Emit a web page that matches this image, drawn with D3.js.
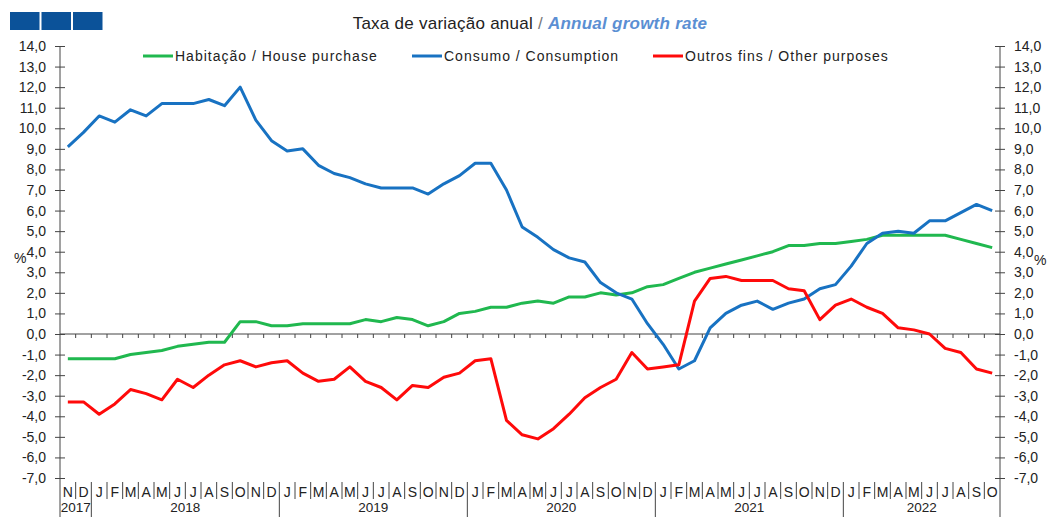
<!DOCTYPE html>
<html>
<head>
<meta charset="utf-8">
<script src="https://cdn.jsdelivr.net/npm/d3@7"></script>
<style>
  body { margin: 0; background: #fff; }
  svg { display: block; font-family: "Liberation Sans", Arial, sans-serif; }
</style>
</head>
<body>
<svg id="chart" width="1048" height="517"></svg>
<script>
// meses: N 2017 .. O 2022
const months = ["N","D",
  "J","F","M","A","M","J","J","A","S","O","N","D",
  "J","F","M","A","M","J","J","A","S","O","N","D",
  "J","F","M","A","M","J","J","A","S","O","N","D",
  "J","F","M","A","M","J","J","A","S","O","N","D",
  "J","F","M","A","M","J","J","A","S","O"];
const years = ["2017","2018","2019","2020","2021","2022"];
const monthsPerYear = [2, 12, 12, 12, 12, 10];

const habitacao = [-1.2,-1.2,-1.2,-1.2,-1.0,-0.9,-0.8,-0.6,-0.5,-0.4,-0.4,
  0.6,0.6,0.4,0.4,0.5,0.5,0.5,0.5,0.7,0.6,0.8,0.7,0.4,0.6,1.0,
  1.1,1.3,1.3,1.5,1.6,1.5,1.8,1.8,2.0,1.9,2.0,2.3,
  2.4,2.7,3.0,3.2,3.4,3.6,3.8,4.0,4.3,4.3,4.4,4.4,
  4.5,4.6,4.8,4.8,4.8,4.8,4.8,4.6,4.4,4.2];
const consumo = [9.1,9.8,10.6,10.3,10.9,10.6,11.2,11.2,11.2,11.4,11.1,
  12.0,10.4,9.4,8.9,9.0,8.2,7.8,7.6,7.3,7.1,7.1,7.1,6.8,7.3,7.7,
  8.3,8.3,7.0,5.2,4.7,4.1,3.7,3.5,2.5,2.0,1.7,0.5,
  -0.5,-1.7,-1.3,0.3,1.0,1.4,1.6,1.2,1.5,1.7,2.2,2.4,
  3.3,4.4,4.9,5.0,4.9,5.5,5.5,5.9,6.3,6.0];
const outros = [-3.3,-3.3,-3.9,-3.4,-2.7,-2.9,-3.2,-2.2,-2.6,-2.0,-1.5,
  -1.3,-1.6,-1.4,-1.3,-1.9,-2.3,-2.2,-1.6,-2.3,-2.6,-3.2,-2.5,-2.6,-2.1,-1.9,
  -1.3,-1.2,-4.2,-4.9,-5.1,-4.6,-3.9,-3.1,-2.6,-2.2,-0.9,-1.7,
  -1.6,-1.5,1.6,2.7,2.8,2.6,2.6,2.6,2.2,2.1,0.7,1.4,
  1.7,1.3,1.0,0.3,0.2,0.0,-0.7,-0.9,-1.7,-1.9];

const yTicks = d3.range(-7, 15);

const series = [
  { name: "Habitação / House purchase", values: habitacao, color: "#20b84f", lx: 143 },
  { name: "Consumo / Consumption", values: consumo, color: "#1872c2", lx: 412 },
  { name: "Outros fins / Other purposes", values: outros, color: "#ff0a0a", lx: 653 }
];

const svg = d3.select("#chart");
const mLeft = 60, mRight = 1000, mTop = 46, mBottom = 478;
const ink = "#222";

const idx = d3.range(months.length);
const x = d3.scaleBand().domain(idx).range([mLeft, mRight]);
const y = d3.scaleLinear().domain([-7, 14]).range([mBottom, mTop]);
const fmt = v => d3.format(".1f")(v).replace(".", ",").replace("−", "-");

// quadradinhos azuis do canto
svg.selectAll("rect.logo").data([0, 1, 2]).join("rect")
  .attr("x", d => 10 + d * 31.5).attr("y", 12)
  .attr("width", 29.5).attr("height", 18)
  .attr("fill", "#0b5299");

// título
const title = svg.append("text")
  .attr("x", 530).attr("y", 29)
  .attr("text-anchor", "middle")
  .attr("font-size", 17).attr("letter-spacing", 0.25).attr("fill", ink);
title.append("tspan").text("Taxa de variação anual ");
title.append("tspan").attr("fill", "#777").text("/ ");
title.append("tspan").attr("fill", "#5b8fd3")
  .attr("font-style", "italic").attr("font-weight", "bold")
  .text("Annual growth rate");

// legenda
const leg = svg.append("g");
series.forEach(s => {
  leg.append("line")
    .attr("x1", s.lx).attr("x2", s.lx + 30)
    .attr("y1", 56).attr("y2", 56)
    .attr("stroke", s.color).attr("stroke-width", 3);
  leg.append("text")
    .attr("x", s.lx + 32).attr("y", 61)
    .attr("font-size", 14).attr("letter-spacing", 1)
    .attr("fill", ink).text(s.name);
});

// eixos verticais
const axL = svg.append("g").attr("transform", `translate(${mLeft},0)`)
  .call(d3.axisLeft(y).tickValues(yTicks).tickFormat(fmt).tickSizeOuter(0).tickSize(5).tickPadding(9));
const axR = svg.append("g").attr("transform", `translate(${mRight},0)`)
  .call(d3.axisRight(y).tickValues(yTicks).tickFormat(fmt).tickSizeOuter(0).tickSize(5).tickPadding(9));
[axL, axR].forEach(ax => {
  ax.select(".domain").remove();
  ax.selectAll(".tick line").attr("x1", -5).attr("x2", 5).attr("stroke", "#444");
  ax.selectAll(".tick text").attr("font-size", 14).attr("fill", ink)
    .attr("font-family", "Liberation Sans, Arial, sans-serif");
});
[mLeft, mRight].forEach(px => {
  svg.append("line").attr("x1", px).attr("x2", px)
    .attr("y1", mTop).attr("y2", 517).attr("stroke", "#444");
});

svg.append("text").attr("x", 14).attr("y", 263).attr("font-size", 14).attr("fill", ink).text("%");
svg.append("text").attr("x", 1034).attr("y", 265).attr("font-size", 14).attr("fill", ink).text("%");

// linha do zero com marcas mensais
const y0 = y(0);
svg.append("line").attr("x1", mLeft).attr("x2", mRight)
  .attr("y1", y0).attr("y2", y0).attr("stroke", "#444");
svg.selectAll("line.ztick").data(idx.slice(1)).join("line")
  .attr("x1", d => x(d)).attr("x2", d => x(d))
  .attr("y1", y0).attr("y2", y0 + 4).attr("stroke", "#444");

// rótulos dos meses e separadores
const yearStart = [0];
monthsPerYear.forEach((n, i) => yearStart.push(yearStart[i] + n));
svg.selectAll("line.msep").data(idx.slice(1)).join("line")
  .attr("x1", d => x(d)).attr("x2", d => x(d))
  .attr("y1", 482).attr("y2", d => yearStart.includes(d) ? 517 : 499)
  .attr("stroke", "#444");
svg.selectAll("text.mon").data(idx).join("text")
  .attr("x", d => x(d) + x.bandwidth() / 2).attr("y", 497)
  .attr("text-anchor", "middle").attr("font-size", 14).attr("fill", ink)
  .text(d => months[d]);
svg.selectAll("text.yr").data(years).join("text")
  .attr("x", (d, i) => (x(yearStart[i]) + (yearStart[i + 1] < months.length ? x(yearStart[i + 1]) : mRight)) / 2)
  .attr("y", 512).attr("text-anchor", "middle").attr("font-size", 13.5).attr("fill", ink)
  .text(d => d);

// séries
const line = d3.line().x((d, i) => x(i) + x.bandwidth() / 2).y(d => y(d));
series.forEach(s => {
  svg.append("path").datum(s.values)
    .attr("d", line).attr("fill", "none")
    .attr("stroke", s.color).attr("stroke-width", 3)
    .attr("stroke-linejoin", "round");
});
</script>
</body>
</html>
